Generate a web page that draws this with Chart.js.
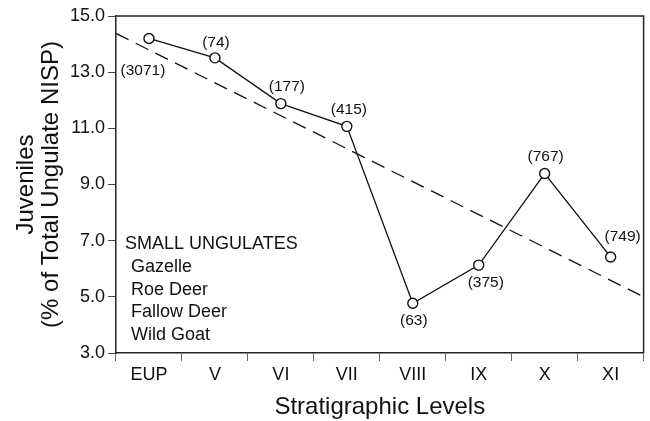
<!DOCTYPE html>
<html>
<head>
<meta charset="utf-8">
<script src="https://cdn.jsdelivr.net/npm/chart.js@4/dist/chart.umd.min.js"></script>
<style>
  html, body { margin: 0; padding: 0; background: #fff; }
  #c { display: block; }
</style>
</head>
<body>
<canvas id="c" width="650" height="421"></canvas>
<script>
// ---- data ----
const levels = ['EUP', 'V', 'VI', 'VII', 'VIII', 'IX', 'X', 'XI'];
const juvenilePct = [14.20, 13.51, 11.88, 11.07, 4.77, 6.13, 9.39, 6.42];
const nispCounts = [3071, 74, 177, 415, 63, 375, 767, 749];
const trendX = [-0.5, 7.5];
const trendY = [14.38, 5.0];
const yTicks = [3, 5, 7, 9, 11, 13, 15];
const legendTitle = 'SMALL UNGULATES';
const legendItems = ['Gazelle', 'Roe Deer', 'Fallow Deer', 'Wild Goat'];

// ---- styles (label offsets relative to points, px) ----
const labelOffsets = [[-6, 32], [1, -15], [6, -17], [2, -17], [1, 17], [7, 18], [1, -17], [12, -20]];
const FONT = "'Liberation Sans', Arial, Helvetica, sans-serif";

const overlay = {
  id: 'overlay',
  afterDatasetsDraw(chart) {
    const ctx = chart.ctx;
    const a = chart.chartArea;
    ctx.save();
    // frame (top and right)
    ctx.strokeStyle = '#222';
    ctx.lineWidth = 1.5;
    ctx.beginPath();
    ctx.moveTo(a.left, a.top);
    ctx.lineTo(a.right, a.top);
    ctx.lineTo(a.right, a.bottom);
    ctx.stroke();
    // count labels
    const meta = chart.getDatasetMeta(1);
    ctx.fillStyle = '#111';
    ctx.font = '15.5px ' + FONT;
    ctx.textAlign = 'center';
    ctx.textBaseline = 'middle';
    meta.data.forEach((pt, i) => {
      const o = labelOffsets[i];
      ctx.fillText('(' + nispCounts[i] + ')', pt.x + o[0], pt.y + o[1]);
    });
    // legend text block
    ctx.font = '18px ' + FONT;
    ctx.textAlign = 'left';
    ctx.fillText(legendTitle, a.left + 9, 244);
    legendItems.forEach((t, i) => {
      ctx.fillText(t, a.left + 15, 267 + i * 22.7);
    });
    ctx.restore();
  }
};

new Chart(document.getElementById('c'), {
  type: 'line',
  data: {
    labels: levels,
    datasets: [
      {
        label: 'trend',
        xAxisID: 'xt',
        data: trendX.map((x, i) => ({ x: x, y: trendY[i] })),
        borderColor: '#111',
        borderWidth: 1.3,
        borderDash: [14, 8],
        pointRadius: 0,
        fill: false,
        order: 2
      },
      {
        label: 'Juveniles',
        data: juvenilePct,
        borderColor: '#111',
        borderWidth: 1.3,
        pointRadius: 5,
        pointBorderWidth: 1.4,
        pointBackgroundColor: '#fff',
        pointBorderColor: '#111',
        fill: false,
        tension: 0,
        order: 1
      }
    ]
  },
  options: {
    responsive: false,
    animation: false,
    devicePixelRatio: 1,
    layout: { padding: { left: 0, right: 4, top: 16, bottom: 0 } },
    plugins: { legend: { display: false }, tooltip: { enabled: false } },
    scales: {
      x: {
        type: 'category',
        offset: true,
        grid: { offset: true, drawOnChartArea: false, drawTicks: true, tickLength: 8, color: '#666', lineWidth: 1 },
        border: { display: true, color: '#222', width: 1.5 },
        ticks: { color: '#111', font: { family: FONT, size: 18 }, padding: 3 },
        title: { display: true, text: 'Stratigraphic Levels', color: '#111', font: { family: FONT, size: 24, lineHeight: 1.1 }, padding: { top: 0, bottom: 0 } },
        afterFit(scale) { scale.height = 68; }
      },
      xt: {
        type: 'linear',
        display: false,
        min: trendX[0],
        max: trendX[1]
      },
      y: {
        min: yTicks[0],
        max: yTicks[yTicks.length - 1],
        afterBuildTicks(scale) { scale.ticks = yTicks.map(v => ({ value: v })); },
        grid: { drawOnChartArea: false, drawTicks: true, tickLength: 8, color: '#444', lineWidth: 1 },
        border: { display: true, color: '#222', width: 1.5 },
        ticks: { color: '#111', font: { family: FONT, size: 18 }, padding: 3, callback: v => Number(v).toFixed(1) },
        title: { display: true, text: ['Juveniles', '(% of Total Ungulate NISP)'], color: '#111', font: { family: FONT, size: 24, lineHeight: 1.05 }, padding: { top: 14, bottom: 0 } },
        afterFit(scale) { scale.width = 116; }
      }
    }
  },
  plugins: [overlay]
});
</script>
</body>
</html>
